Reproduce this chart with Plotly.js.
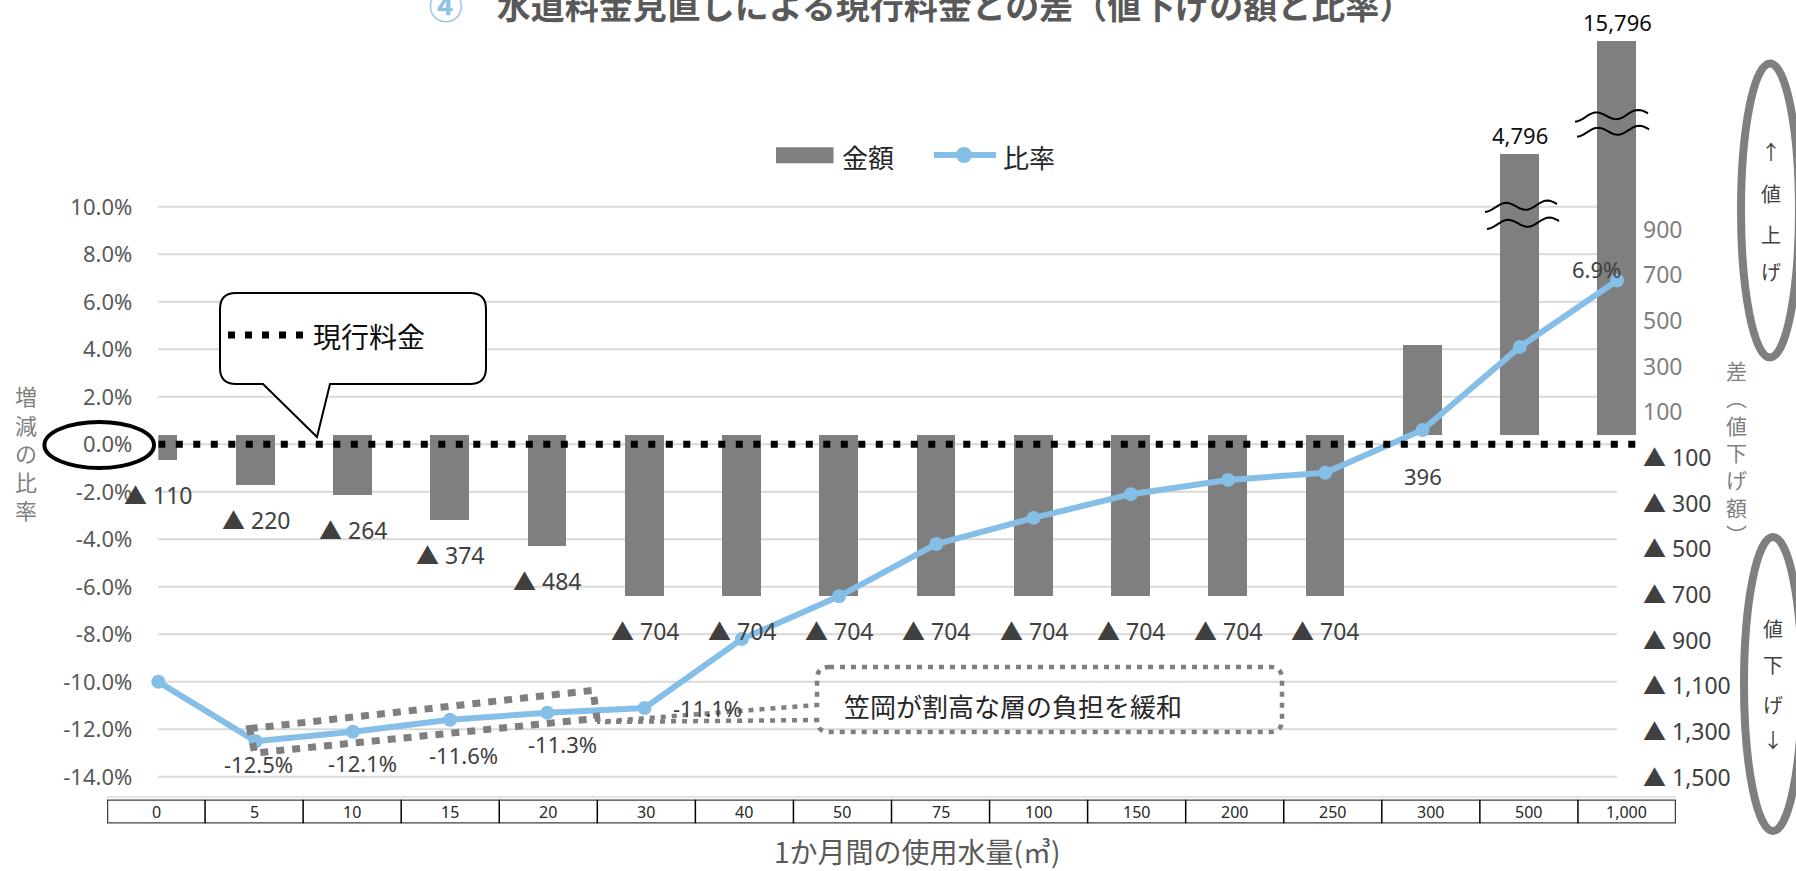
<!DOCTYPE html>
<html>
<head>
<meta charset="utf-8">
<script src="https://cdn.plot.ly/plotly-3.0.1.min.js"></script>
<style>html,body{margin:0;padding:0;background:#fff;overflow:hidden}</style>
</head>
<body>
<div id="chart" style="width:1796px;height:871px"></div>
<script>
// ---------------- data ----------------
const categories = ['0','5','10','15','20','30','40','50','75','100','150','200','250','300','500','1,000'];
const amountDiff = [-110,-220,-264,-374,-484,-704,-704,-704,-704,-704,-704,-704,-704,396,4796,15796];
const ratePct    = [-10.0,-12.5,-12.1,-11.6,-11.3,-11.1,-8.2,-6.4,-4.2,-3.1,-2.1,-1.5,-1.2,0.6,4.1,6.9];
const leftTicks  = [10,8,6,4,2,0,-2,-4,-6,-8,-10,-12,-14];
const rightTicks = [900,700,500,300,100,-100,-300,-500,-700,-900,-1100,-1300,-1500];
const labelledRate = [1,2,3,4,5,15];
const seriesNames = ['金額','比率'];
const titleText = '水道料金見直しによる現行料金との差（値下げの額と比率）';
const xTitle = '1か月間の使用水量(㎥)';
const leftTitle = ['増','減','の','比','率'];
const rightTitle = ['差','︵','値','下','げ','額','︶'];

// ---------------- geometry helpers ----------------
const W = 1796, H = 871;
const px = x => x / W;
const py = y => 1 - y / H;
const P = (x, y) => px(x).toFixed(5) + ',' + py(y).toFixed(5);
const FONT = "'Noto Sans', 'Noto Sans CJK JP', sans-serif";
const JP = "'Noto Sans CJK JP', 'Noto Sans', sans-serif";

const PLOT_L = 158.3, PLOT_R = 1617, PLOT_R_EXT = 1640, PLOT_T = 30, PLOT_B = 797;
const CAT_W = 97.25;
const ZERO_L = 444.3, PX_PER_PCT = 23.75;   // ratio axis scale
const ZERO_R = 435, PX_PER_YEN = 0.2283;    // amount axis scale
// broken amount axis (values beyond the break are compressed, as marked by the ≈ signs)
const BREAK_FROM = 1063, BREAK_RATIO = 0.045;
const shown = v => v > BREAK_FROM ? BREAK_FROM + (v - BREAK_FROM) * BREAK_RATIO : v;

const idx = categories.map((c, i) => i);
const fmt = v => Math.abs(v).toLocaleString('en-US');

// ---------------- traces ----------------
const bars = {
  type: 'bar', name: seriesNames[0], x: idx, y: amountDiff.map(shown), customdata: amountDiff,
  width: 0.4, marker: {color: '#7f7f7f'}, xaxis: 'x', yaxis: 'y',
  hovertemplate: '%{customdata}<extra></extra>', showlegend: false
};
const line = {
  type: 'scatter', mode: 'lines+markers', name: seriesNames[1], x: idx, y: ratePct,
  line: {color: '#85BFE8', width: 6}, marker: {color: '#85BFE8', size: 14},
  xaxis: 'x', yaxis: 'y2', showlegend: false, cliponaxis: false
};
const dummy = {type: 'scatter', x: [], y: [], xaxis: 'x2', yaxis: 'y3', showlegend: false, hoverinfo: 'skip'};

// ---------------- shapes ----------------
const shapes = [];
leftTicks.forEach(t => shapes.push({
  type: 'line', xref: 'paper', yref: 'y2', x0: px(PLOT_L), x1: px(PLOT_R), y0: t, y1: t,
  line: {color: '#d9d9d9', width: 2}, layer: 'below'
}));
// 現行料金 dotted line at 0 %
shapes.push({type: 'line', xref: 'x', yref: 'y2', x0: 0, x1: (1638 - PLOT_L) / CAT_W, y0: 0, y1: 0,
  line: {color: '#000', width: 7, dash: '7px,10.5px'}, layer: 'above'});
// ellipse around 0.0%
shapes.push({type: 'circle', xref: 'paper', yref: 'paper', x0: px(44.4), x1: px(154), y0: py(468), y1: py(422),
  line: {color: '#000', width: 4}, layer: 'above'});
// callout box 現行料金
shapes.push({type: 'path', xref: 'paper', yref: 'paper', layer: 'above', fillcolor: '#fff',
  line: {color: '#000', width: 2},
  path: 'M' + P(236,293) + ' L' + P(470,293) + ' Q' + P(486,293) + ' ' + P(486,309) +
        ' L' + P(486,368) + ' Q' + P(486,384) + ' ' + P(470,384) + ' L' + P(330,384) +
        ' L' + P(317,437) + ' L' + P(263,384) + ' L' + P(236,384) + ' Q' + P(220,384) + ' ' + P(220,368) +
        ' L' + P(220,309) + ' Q' + P(220,293) + ' ' + P(236,293) + ' Z'});
shapes.push({type: 'line', xref: 'paper', yref: 'paper', x0: px(228), x1: px(305), y0: py(335), y1: py(335),
  line: {color: '#000', width: 7, dash: '7px,10px'}, layer: 'above'});
// dotted note box with wedge
shapes.push({type: 'path', xref: 'paper', yref: 'paper', layer: 'above', fillcolor: 'rgba(255,255,255,0)',
  line: {color: '#7f7f7f', width: 4.5, dash: '5px,6px'},
  path: 'M' + P(829,667) + ' L' + P(1270,667) + ' Q' + P(1282,667) + ' ' + P(1282,679) +
        ' L' + P(1282,720) + ' Q' + P(1282,732) + ' ' + P(1270,732) + ' L' + P(829,732) +
        ' Q' + P(817,732) + ' ' + P(817,720) + ' L' + P(597,722) + ' L' + P(817,705) +
        ' L' + P(817,679) + ' Q' + P(817,667) + ' ' + P(829,667) + ' Z'});
// dotted band around the low-usage points
shapes.push({type: 'path', xref: 'x', yref: 'y2', layer: 'above',
  line: {color: '#7f7f7f', width: 7, dash: '8px,8px'},
  path: 'M0.94,-11.97 L4.47,-10.36 L4.51,-11.54 L0.99,-13.0 Z'});
// axis-break marks
function wave(x0, x1, yc0, yc1, amp) {
  let d = '';
  for (let k = 0; k <= 30; k++) {
    const t = k / 30;
    const x = x0 + t * (x1 - x0);
    const y = yc0 + t * (yc1 - yc0) - amp * Math.sin(-Math.PI / 2 + t * 3.5 * Math.PI);
    d += (k ? ' L' : 'M') + P(x, y);
  }
  return {type: 'path', xref: 'paper', yref: 'paper', path: d, line: {color: '#000', width: 2}, layer: 'above'};
}
shapes.push(wave(1485, 1557, 208, 204, 4), wave(1487, 1559, 225, 221, 4));
shapes.push(wave(1575, 1648, 117.7, 113.3, 4), wave(1577, 1649, 132.7, 129.3, 4));
// right side ellipses
shapes.push({type: 'circle', xref: 'paper', yref: 'paper', x0: px(1741), x1: px(1799), y0: py(357.5), y1: py(63.5),
  line: {color: '#7f7f7f', width: 8}, layer: 'above'});
shapes.push({type: 'circle', xref: 'paper', yref: 'paper', x0: px(1744), x1: px(1802), y0: py(831), y1: py(537),
  line: {color: '#7f7f7f', width: 8}, layer: 'above'});
// legend swatches
shapes.push({type: 'rect', xref: 'paper', yref: 'paper', x0: px(776), x1: px(833.5), y0: py(163.3), y1: py(147.3),
  fillcolor: '#7f7f7f', line: {width: 0}});
shapes.push({type: 'line', xref: 'paper', yref: 'paper', x0: px(934), x1: px(996), y0: py(155), y1: py(155),
  line: {color: '#85BFE8', width: 6}});
shapes.push({type: 'circle', xref: 'paper', yref: 'paper', x0: px(956), x1: px(972), y0: py(163), y1: py(147),
  fillcolor: '#85BFE8', line: {width: 0}});
// category axis line + table
shapes.push({type: 'line', xref: 'x2', yref: 'paper', x0: -0.5, x1: 15.5, y0: py(797), y1: py(797),
  line: {color: '#d6dce5', width: 1.5}});
shapes.push({type: 'rect', xref: 'x2', yref: 'y3', x0: -0.5, x1: 15.5, y0: 0, y1: 1,
  line: {color: '#404040', width: 2.5}, fillcolor: 'rgba(0,0,0,0)'});
for (let i = 0; i < categories.length - 1; i++) {
  shapes.push({type: 'line', xref: 'x2', yref: 'y3', x0: i + 0.5, x1: i + 0.5, y0: 0, y1: 1,
    line: {color: '#000', width: 1.5}});
}

// ---------------- annotations ----------------
const ann = [];
// bar value labels
amountDiff.forEach((v, i) => {
  if (v < 0) {
    ann.push({xref: 'x', yref: 'y', x: i, y: v, yshift: -35, showarrow: false,
      text: '▲ ' + fmt(v), font: {family: FONT, size: 23, color: '#404040'}});
  } else if (v <= BREAK_FROM) {
    ann.push({xref: 'x', yref: 'y', x: i, y: 0, yshift: -41, showarrow: false,
      text: fmt(v), font: {family: FONT, size: 22, color: '#404040'}});
  } else {
    ann.push({xref: 'x', yref: 'y', x: i, y: shown(v), yshift: 19, showarrow: false,
      text: fmt(v), font: {family: FONT, size: 22, color: '#0d0d0d'}});
  }
});
// ratio labels
const rateShift = {1: [3, -23], 2: [10, -31], 3: [13, -35], 4: [15, -31], 5: [63, 0], 15: [-21, 11]};
labelledRate.forEach(i => {
  ann.push({xref: 'x', yref: 'y2', x: i, y: ratePct[i], xshift: rateShift[i][0], yshift: rateShift[i][1],
    showarrow: false, text: ratePct[i].toFixed(1) + '%', font: {family: FONT, size: 22, color: '#404040'}});
});
// table labels
categories.forEach((c, i) => ann.push({xref: 'x2', yref: 'y3', x: i, y: 0.5, showarrow: false,
  text: c, font: {family: FONT, size: 16, color: '#262626'}}));
// x title
ann.push({xref: 'paper', yref: 'paper', x: px(917), y: py(851), showarrow: false, text: xTitle,
  font: {family: JP, size: 28, color: '#595959'}});
// left title
ann.push({xref: 'paper', yref: 'paper', x: px(26), y: py(452), showarrow: false, text: leftTitle.join('<br>'),
  font: {family: JP, size: 22, color: '#7f7f7f'}});
// right title (vertical)
ann.push({xref: 'paper', yref: 'paper', x: px(1736), y: py(452), showarrow: false, text: rightTitle.join('<br>'),
  font: {family: JP, size: 21, color: '#7f7f7f'}});
// callout text
ann.push({xref: 'paper', yref: 'paper', x: px(311), xanchor: 'left', y: py(336), showarrow: false, text: '現行料金',
  font: {family: JP, size: 28, color: '#0d0d0d'}});
// note text
ann.push({xref: 'paper', yref: 'paper', x: px(1013), y: py(705), showarrow: false, text: '笠岡が割高な層の負担を緩和',
  font: {family: JP, size: 26, color: '#262626'}});
// legend labels
ann.push({xref: 'paper', yref: 'paper', x: px(840), xanchor: 'left', y: py(157), showarrow: false, text: seriesNames[0],
  font: {family: JP, size: 26, color: '#262626'}});
ann.push({xref: 'paper', yref: 'paper', x: px(1001), xanchor: 'left', y: py(157), showarrow: false, text: seriesNames[1],
  font: {family: JP, size: 26, color: '#262626'}});
// ellipse texts
[['↑', 152], ['値', 193], ['上', 235], ['げ', 272]].forEach(([t, y]) => ann.push({xref: 'paper', yref: 'paper',
  x: px(1771), y: py(y), showarrow: false, text: t, font: {family: JP, size: 20, color: '#404040'}}));
[['値', 628], ['下', 664], ['げ', 704], ['↓', 739]].forEach(([t, y]) => ann.push({xref: 'paper', yref: 'paper',
  x: px(1773), y: py(y), showarrow: false, text: t, font: {family: JP, size: 20, color: '#404040'}}));
ann.forEach(a => { a.xanchor = a.xanchor || 'center'; a.yanchor = a.yanchor || 'middle'; });

// ---------------- layout ----------------
const layout = {
  width: W, height: H, margin: {l: 0, r: 0, t: 0, b: 0}, paper_bgcolor: '#fff', plot_bgcolor: 'rgba(0,0,0,0)',
  font: {family: FONT},
  title: {
    text: '<span style="color:#8BC3E8">④</span>　' + titleText,
    x: px(921), xanchor: 'center', y: py(7), yanchor: 'middle', yref: 'container',
    font: {family: JP, size: 34, color: '#595959', weight: 'bold'}
  },
  showlegend: false, bargap: 0,
  xaxis: {domain: [px(PLOT_L), px(PLOT_R_EXT)], range: [0, (PLOT_R_EXT - PLOT_L) / CAT_W],
    showgrid: false, zeroline: false, showline: false, showticklabels: false, ticks: '', anchor: 'y'},
  yaxis: {domain: [py(PLOT_B), py(PLOT_T)],
    range: [(ZERO_R - PLOT_B) / PX_PER_YEN, (ZERO_R - PLOT_T) / PX_PER_YEN],
    side: 'right', anchor: 'free', position: px(PLOT_R),
    tickmode: 'array', tickvals: rightTicks,
    ticktext: rightTicks.map(v => v > 0 ? fmt(v) : '<span style="color:#404040">▲ ' + fmt(v) + '</span>'),
    tickfont: {family: FONT, size: 23, color: '#7f7f7f'}, ticklabelstandoff: 25,
    showgrid: false, zeroline: false, showline: false, ticks: ''},
  yaxis2: {domain: [py(PLOT_B), py(PLOT_T)],
    range: [(ZERO_L - PLOT_B) / PX_PER_PCT, (ZERO_L - PLOT_T) / PX_PER_PCT],
    overlaying: 'y', side: 'left', anchor: 'x',
    tickmode: 'array', tickvals: leftTicks, ticktext: leftTicks.map(v => v.toFixed(1) + '%'),
    tickfont: {family: FONT, size: 22, color: '#595959'}, ticklabelstandoff: 25,
    showgrid: false, zeroline: false, showline: false, ticks: ''},
  xaxis2: {domain: [px(107), px(1676)], range: [-0.5, 15.5], anchor: 'y3', visible: false, showgrid: false, zeroline: false},
  yaxis3: {domain: [py(823.5), py(799.5)], range: [0, 1], anchor: 'x2', visible: false, showgrid: false, zeroline: false},
  shapes: shapes,
  annotations: ann
};

Plotly.newPlot('chart', [bars, line, dummy], layout, {displayModeBar: false, responsive: false});
</script>
</body>
</html>
